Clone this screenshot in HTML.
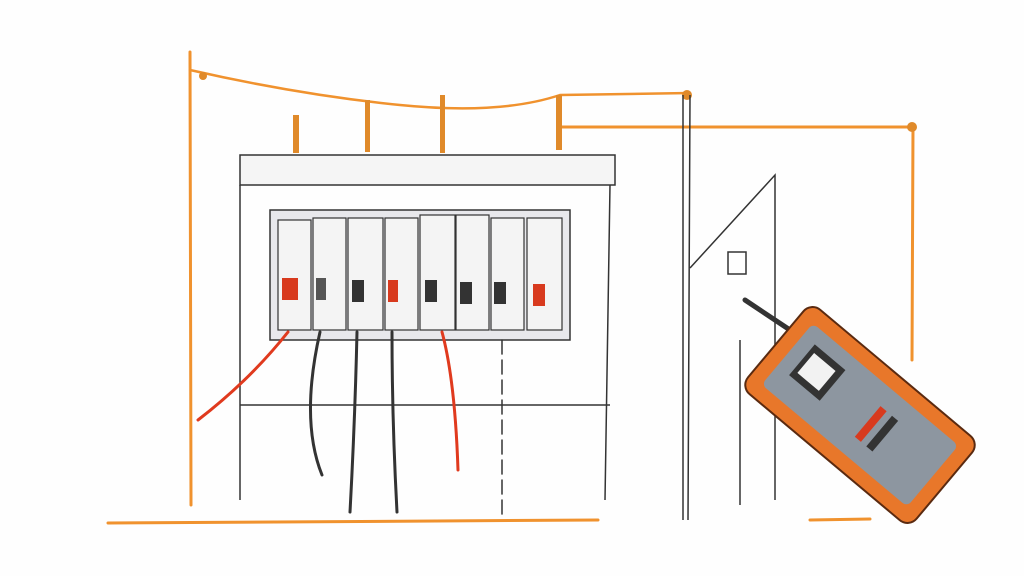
<!DOCTYPE html>
<html><head><meta charset="utf-8"><style>html,body{margin:0;padding:0;background:#fff}svg{display:block}</style></head>
<body>
<svg width="1024" height="576" viewBox="0 0 1024 576" xmlns="http://www.w3.org/2000/svg">
<rect width="1024" height="576" fill="#fefefe"/>
<g stroke="#f0922e" fill="none" stroke-linecap="round">
<path d="M190 52 L191 505" stroke-width="3"/>
<path d="M190 70 Q300 95 400 105 T560 95 L690 93" stroke-width="2.5"/>
<path d="M560 127 L915 127" stroke-width="3"/>
<path d="M913 127 L912 360" stroke-width="3"/>
<path d="M108 523 L598 520" stroke-width="3"/>
<path d="M810 520 L870 519" stroke-width="3"/>
</g>
<g fill="#e08a2a">
<circle cx="203" cy="76" r="4"/><circle cx="687" cy="95" r="5"/><circle cx="912" cy="127" r="5"/>
<rect x="293" y="115" width="6" height="38"/><rect x="365" y="100" width="5" height="52"/><rect x="440" y="95" width="5" height="58"/><rect x="556" y="95" width="6" height="55"/>
</g>
<g stroke="#333" fill="none" stroke-width="1.5">
<rect x="240" y="155" width="375" height="30" fill="#f5f5f5"/>
<path d="M240 185 L240 500 M610 185 L605 500 M240 405 L610 405"/>
<rect x="270" y="210" width="300" height="130" fill="#e8e8ec"/>
<path d="M683 95 L683 520 M690 95 L688 520 M690 268 L775 175 L775 500 M740 340 L740 505"/>
<rect x="728" y="252" width="18" height="22"/>
</g>
<g stroke="#333" stroke-width="1.2" fill="#f4f4f4">
<rect x="278" y="220" width="33" height="110"/><rect x="313" y="218" width="33" height="112"/>
<rect x="348" y="218" width="35" height="112"/><rect x="385" y="218" width="33" height="112"/>
<rect x="420" y="215" width="35" height="115"/><rect x="456" y="215" width="33" height="115"/>
<rect x="491" y="218" width="33" height="112"/><rect x="527" y="218" width="35" height="112"/>
</g>
<g>
<rect x="282" y="278" width="16" height="22" fill="#d83a1e"/><rect x="316" y="278" width="10" height="22" fill="#555"/>
<rect x="352" y="280" width="12" height="22" fill="#333"/><rect x="388" y="280" width="10" height="22" fill="#d83a1e"/>
<rect x="425" y="280" width="12" height="22" fill="#333"/><rect x="460" y="282" width="12" height="22" fill="#333"/>
<rect x="494" y="282" width="12" height="22" fill="#333"/><rect x="533" y="284" width="12" height="22" fill="#d83a1e"/>
</g>
<g fill="none" stroke-linecap="round">
<path d="M288 332 Q250 380 198 420" stroke="#e03a1e" stroke-width="3"/>
<path d="M320 332 Q300 420 322 475" stroke="#333" stroke-width="3"/>
<path d="M357 332 Q355 420 350 512" stroke="#333" stroke-width="3"/>
<path d="M392 332 Q392 420 397 512" stroke="#333" stroke-width="3"/>
<path d="M442 332 Q455 380 458 470" stroke="#e03a1e" stroke-width="3"/>
<path d="M502 340 L502 520" stroke="#333" stroke-width="1.5" stroke-dasharray="14 6"/>
<path d="M745 300 L790 330" stroke="#333" stroke-width="5"/>
</g>
<g transform="translate(860 415) rotate(40)">
<rect x="-110" y="-55" width="220" height="110" rx="12" fill="#e8772a" stroke="#5a2a10" stroke-width="2"/>
<rect x="-95" y="-40" width="190" height="80" rx="6" fill="#8d96a0"/>
<rect x="-80" y="-25" width="40" height="40" fill="#333"/>
<rect x="-75" y="-18" width="28" height="26" fill="#f2f2f2"/>
<rect x="10" y="-20" width="8" height="40" fill="#d83a1e"/><rect x="25" y="-20" width="8" height="40" fill="#333"/>
</g>
</svg>
</body></html>
